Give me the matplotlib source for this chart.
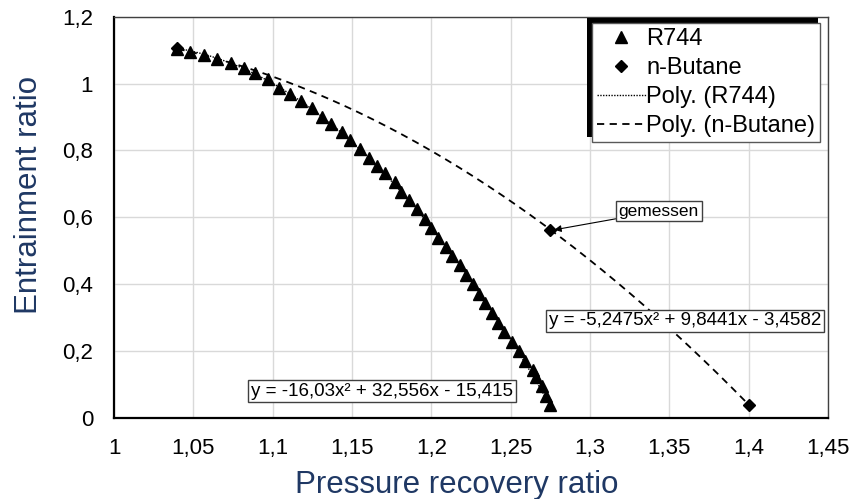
import numpy as np
import matplotlib
matplotlib.use("Agg")
import matplotlib.pyplot as plt
from matplotlib.patches import Rectangle

plt.rcParams['font.family'] = ['Liberation Sans', 'DejaVu Sans']

# R744 (triangles)
r744_x = [1.040, 1.048, 1.057, 1.065, 1.074, 1.082, 1.089, 1.097, 1.104, 1.111,
          1.118, 1.125, 1.131, 1.137, 1.144, 1.149, 1.155, 1.161, 1.166, 1.171,
          1.177, 1.181, 1.186, 1.191, 1.196, 1.200, 1.204, 1.209, 1.213, 1.218,
          1.222, 1.226, 1.230, 1.234, 1.238, 1.242, 1.246, 1.251, 1.255, 1.259,
          1.264, 1.266, 1.270, 1.272, 1.275]
r744_y = [1.103, 1.095, 1.085, 1.073, 1.061, 1.047, 1.031, 1.014, 0.986, 0.968,
          0.948, 0.926, 0.901, 0.878, 0.856, 0.831, 0.804, 0.778, 0.754, 0.731,
          0.704, 0.675, 0.650, 0.623, 0.593, 0.567, 0.538, 0.510, 0.484, 0.457,
          0.428, 0.400, 0.371, 0.342, 0.314, 0.284, 0.257, 0.227, 0.200, 0.170,
          0.142, 0.120, 0.094, 0.064, 0.037]

# n-Butane (diamonds)
butane_x = [1.040, 1.275, 1.400]
butane_y = [1.106, 0.562, 0.037]

# trendline coefficients as printed on the chart
r744_coef = [-16.03, 32.556, -15.415]
butane_coef = [-5.2475, 9.8441, -3.4582]
r744_eq = "y = -16,03x² + 32,556x - 15,415"
butane_eq = "y = -5,2475x² + 9,8441x - 3,4582"

x_ticks = [1.0, 1.05, 1.1, 1.15, 1.2, 1.25, 1.3, 1.35, 1.4, 1.45]
x_ticklabels = ["1", "1,05", "1,1", "1,15", "1,2", "1,25", "1,3", "1,35", "1,4", "1,45"]
y_ticks = [0, 0.2, 0.4, 0.6, 0.8, 1.0, 1.2]
y_ticklabels = ["0", "0,2", "0,4", "0,6", "0,8", "1", "1,2"]

navy = "#1f3864"

fig = plt.figure(figsize=(8.56, 4.99), dpi=100)
ax = fig.add_axes([0.1332, 0.1633, 0.8341, 0.8032])

ax.plot(r744_x, r744_y, ls="none", marker="^", ms=8.5, color="black",
        mec="black", label="R744", zorder=3)
ax.plot(butane_x, butane_y, ls="none", marker="D", ms=6, color="black",
        label="n-Butane", zorder=3)

xr = np.linspace(min(r744_x), max(r744_x), 200)
ax.plot(xr, np.polyval(r744_coef, xr), color="black", lw=1.0,
        ls=(0, (1, 1)), label="Poly. (R744)", zorder=4)
xb = np.linspace(min(butane_x), max(butane_x), 200)
ax.plot(xb, np.polyval(butane_coef, xb), color="black", lw=1.3,
        ls=(0, (4, 3)), label="Poly. (n-Butane)", zorder=4)

ax.set_xlim(1.0, 1.45)
ax.set_ylim(0, 1.2)
ax.set_xticks(x_ticks)
ax.set_xticklabels(x_ticklabels)
ax.set_yticks(y_ticks)
ax.set_yticklabels(y_ticklabels)
ax.tick_params(length=0, labelsize=16, pad=15)
ax.grid(True, color="#d9d9d9", lw=1)
ax.set_axisbelow(True)
for s in ["left", "bottom"]:
    ax.spines[s].set_color("black")
    ax.spines[s].set_linewidth(1.6)
for s in ["top", "right"]:
    ax.spines[s].set_color("#404040")
    ax.spines[s].set_linewidth(1.0)

ax.set_xlabel("Pressure recovery ratio", fontsize=22.5, color=navy)
ax.set_ylabel("Entrainment ratio", fontsize=22.5, color=navy)
ax.xaxis.set_label_coords(0.4804, -0.132)
ax.yaxis.set_label_coords(-0.119, 0.555)
ax.yaxis.label.set_va("center")

box = dict(boxstyle="square,pad=0.15", fc="white", ec="#404040", lw=1)
ax.text(1.1689, 0.079, r744_eq, fontsize=13.5, ha="center", va="center",
        bbox=box, zorder=5)
ax.text(1.3598, 0.289, butane_eq, fontsize=13.5, ha="center", va="center",
        bbox=box, zorder=5)
ax.annotate("gemessen", xy=(1.2775, 0.562), xytext=(1.3434, 0.618),
            fontsize=12.5, ha="center", va="center", bbox=box, zorder=5,
            arrowprops=dict(arrowstyle="-|>", color="black", lw=0.8,
                            mutation_scale=10, shrinkA=0, shrinkB=0))

leg = ax.legend(loc="upper right", bbox_to_anchor=(0.9888, 0.984),
                fontsize=17, frameon=True, fancybox=False,
                edgecolor="#595959", framealpha=1, borderpad=0.2,
                labelspacing=0.3, handlelength=2.1, handletextpad=0.0,
                borderaxespad=0)
leg.get_frame().set_linewidth(1.0)
leg.set_zorder(6)

# offset black shadow behind the legend (up-left)
fig.canvas.draw()
bb = leg.get_window_extent()
inv = ax.transAxes.inverted()
(x0, y0), (x1, y1) = inv.transform([[bb.x0 - 5, bb.y0 + 5], [bb.x1 - 2, bb.y1 + 5]])
ax.add_patch(Rectangle((x0, y0), x1 - x0, y1 - y0, transform=ax.transAxes,
                       fc="black", ec="none", clip_on=False, zorder=5.9))

fig.savefig("out.png", dpi=100)
